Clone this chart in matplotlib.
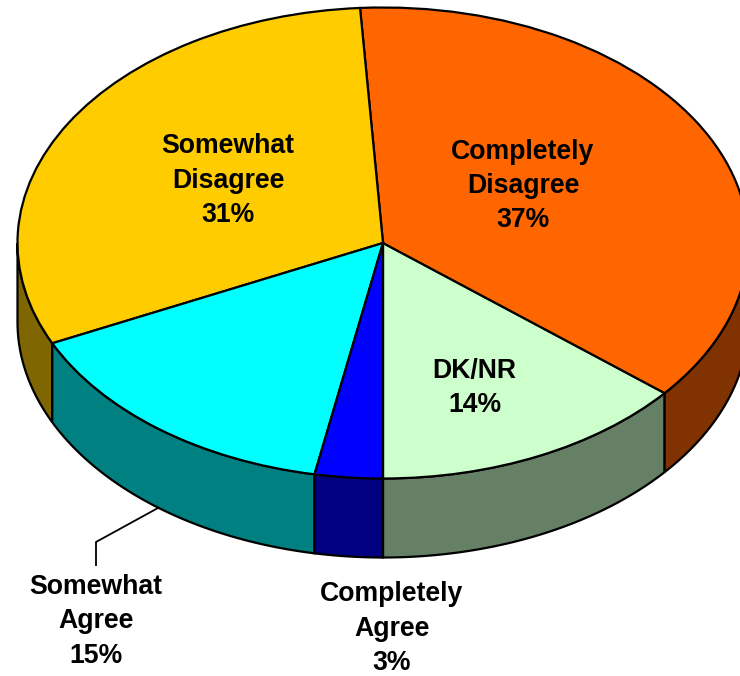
import numpy as np
import matplotlib
matplotlib.use("Agg")
import matplotlib.pyplot as plt
from matplotlib.patches import Polygon

categories = ["DK/NR", "Completely\nDisagree", "Somewhat\nDisagree", "Somewhat\nAgree", "Completely\nAgree"]
values = [14, 37, 31, 15, 3]
top_colors = ["#CCFFCC", "#FF6600", "#FFCC00", "#00FFFF", "#0000FF"]
side_colors = ["#668066", "#803300", "#806600", "#008080", "#000080"]

W, H = 740, 676
CX, CY, RX, RY, DEPTH = 383.0, 243.0, 365.5, 235.5, 79.0


def px(x, y):
    """Reference pixel position to pie data coordinates."""
    return (x - CX) / RX, (CY - y) / RY


plt.rcParams["font.family"] = ["Liberation Sans", "DejaVu Sans"]
fig = plt.figure(figsize=(W / 100, H / 100), dpi=100, facecolor="white")
ax = fig.add_axes([0, 0, 1, 1])

EDGE = dict(edgecolor="black", linewidth=1.6)

# side walls, from the same shares as the top
d = DEPTH / RY
edges = 270 + np.cumsum([0] + values) * 3.6
for a0, a1, col in zip(edges[:-1], edges[1:], side_colors):
    # only the front half of the ellipse (180..360 deg) is visible
    ranges = [(max(a0, 180), min(a1, 360)), (max(a0, 540), min(a1, 720))]
    for lo, hi in ranges:
        if hi <= lo:
            continue
        t = np.radians(np.linspace(lo, hi, 80))
        x, y = np.cos(t), np.sin(t)
        pts = np.r_[np.c_[x, y], np.c_[x, y - d][::-1]]
        ax.add_patch(Polygon(pts, closed=True, facecolor=col, zorder=1, **EDGE))

ax.pie(values, colors=top_colors, startangle=270, counterclock=True,
       radius=1, wedgeprops=dict(zorder=2, **EDGE))
ax.set_aspect("auto")
ax.set_xlim(px(0, 0)[0], px(W, 0)[0])
ax.set_ylim(px(0, H)[1], px(0, 0)[1])
ax.set_axis_off()

label_pos = [(474.5, 388), (523, 186), (228, 180.5), (96, 621.5), (392, 628.5)]
for cat, val, (lx, ly) in zip(categories, values, label_pos):
    x, y = px(lx, ly)
    ax.text(x, y, f"{cat}\n{val}%", ha="center", va="center", fontsize=19.2,
            fontweight="bold", color="black", linespacing=1.42, zorder=5)

lead = np.array([px(158, 508), px(96, 542), px(96, 565)])
ax.plot(lead[:, 0], lead[:, 1], color="black", lw=1.3, zorder=4, clip_on=False)

fig.savefig("out.png", dpi=100, facecolor="white")
